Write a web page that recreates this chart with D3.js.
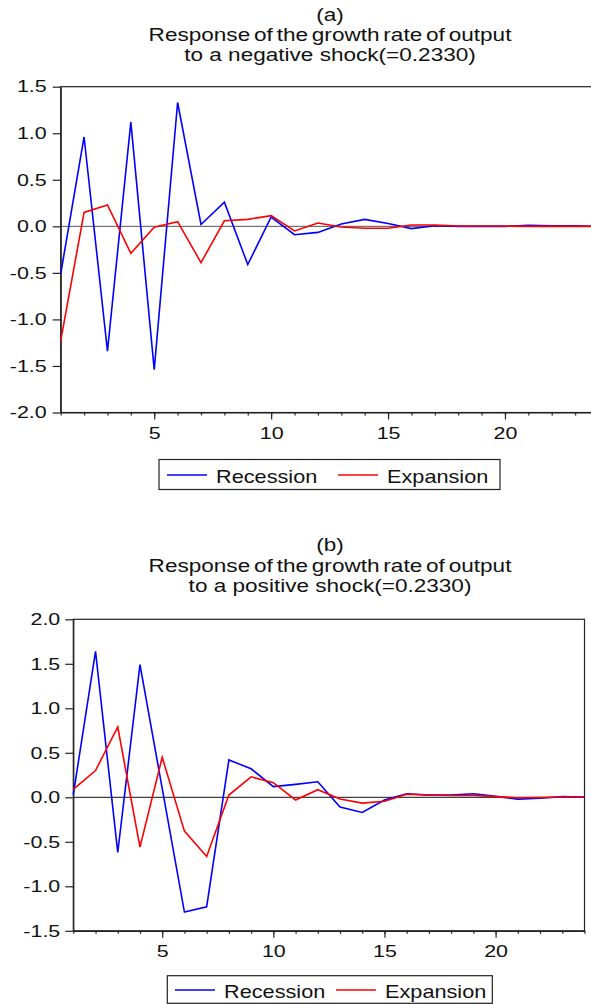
<!DOCTYPE html>
<html lang="en">
<head>
    <meta charset="UTF-8">
    <title>Impulse responses</title>
    <script src="https://d3js.org/d3.v7.min.js"></script>
    <style>
        body { margin: 0; background: #fff; }
        text { font-family: "Liberation Sans", Arial, sans-serif; fill: #111; }
    </style>
</head>
<body>
    <div id="chart"></div>

    <script>
        // Horizons
        const periods = [1, 2, 3, 4, 5, 6, 7, 8, 9, 10, 11, 12, 13, 14, 15, 16, 17, 18, 19, 20, 21, 22, 23, 24];
        const xLabelTicks = [5, 10, 15, 20];

        // (a) negative shock
        const recessionA = [-0.51, 0.96, -1.34, 1.12, -1.54, 1.33, 0.02, 0.26, -0.41, 0.10, -0.09, -0.065,
                            0.025, 0.075, 0.03, -0.025, 0.007, 0.0, 0.0, 0.0, 0.01, 0.005, 0.005, 0.0];
        const expansionA = [-1.23, 0.15, 0.23, -0.29, -0.01, 0.05, -0.39, 0.06, 0.075, 0.115, -0.05, 0.035,
                            -0.007, -0.02, -0.02, 0.015, 0.015, 0.004, 0.004, 0.003, 0.0, 0.0, 0.0, 0.0];
        const yTicksA = [-2.0, -1.5, -1.0, -0.5, 0.0, 0.5, 1.0, 1.5];

        // (b) positive shock
        const recessionB = [0.03, 1.64, -0.62, 1.49, 0.10, -1.29, -1.23, 0.42, 0.32, 0.12, 0.145, 0.175,
                            -0.11, -0.17, -0.03, 0.04, 0.025, 0.025, 0.04, 0.01, -0.02, -0.01, 0.008, 0.004];
        const expansionB = [0.09, 0.30, 0.79, -0.56, 0.45, -0.38, -0.665, 0.025, 0.23, 0.165, -0.03, 0.085,
                            -0.02, -0.065, -0.045, 0.035, 0.025, 0.02, 0.02, 0.008, -0.005, -0.003, 0.003, 0.003];
        const yTicksB = [-1.5, -1.0, -0.5, 0.0, 0.5, 1.0, 1.5, 2.0];

        const seriesNames = ["Recession", "Expansion"];
        const seriesColors = ["#0000ff", "#ff0000"];

        const svg = d3.select("#chart").append("svg")
            .attr("width", 591)
            .attr("height", 1004);

        // the original picture is stretched sideways, so text gets a x-scale
        function stretch(sel, sx) {
            sel.each(function () {
                const t = d3.select(this);
                const x = +t.attr("x") || 0;
                t.attr("x", 0).attr("transform", `translate(${x},0) scale(${sx},1)`);
            });
        }

        function label(g, x, y, str, size, sx, anchor) {
            return g.append("text")
                .attr("transform", `translate(${x},${y}) scale(${sx},1)`)
                .attr("text-anchor", anchor || "middle")
                .attr("font-size", size)
                .text(str);
        }

        function drawPanel(p) {
            const g = svg.append("g");

            const x = d3.scaleLinear().domain([1, 24]).range([p.left, p.right]);
            const y = d3.scaleLinear().domain(d3.extent(p.yTicks)).range([p.bottom, p.top]);

            // titles
            p.titles.forEach((t, i) => {
                label(g, p.titleX, p.titleY[i], t, 18.5, 1.22)
                    .attr("word-spacing", i == 1 ? -2 : 0);
            });

            // frame
            g.append("rect")
                .attr("x", p.left).attr("y", p.top)
                .attr("width", p.right - p.left).attr("height", p.bottom - p.top)
                .attr("fill", "none").attr("stroke", "#222").attr("stroke-width", 1.2);

            // zero line
            g.append("line")
                .attr("x1", p.left).attr("x2", p.right)
                .attr("y1", y(0)).attr("y2", y(0))
                .attr("stroke", p.zeroColor).attr("stroke-width", 1);

            // y axis
            const ya = g.append("g")
                .attr("transform", `translate(${p.left},0)`)
                .call(d3.axisLeft(y).tickValues(p.yTicks).tickSize(8).tickPadding(p.yPad)
                    .tickSizeOuter(0).tickFormat(d => d.toFixed(1)));
            ya.selectAll("text").attr("font-size", 16.5).attr("font-family", null).attr("fill", "#111");
            stretch(ya.selectAll("text"), 1.3);

            // x axis: minor ticks at every period, labelled ones longer
            const xMinor = g.append("g")
                .attr("transform", `translate(0,${p.bottom})`)
                .call(d3.axisBottom(x).tickValues(periods).tickSize(3).tickSizeOuter(0).tickFormat(""));
            xMinor.select(".domain").remove();
            const xa = g.append("g")
                .attr("transform", `translate(0,${p.bottom})`)
                .call(d3.axisBottom(x).tickValues(xLabelTicks).tickSize(7).tickPadding(p.xPad)
                    .tickSizeOuter(0).tickFormat(d3.format("d")));
            xa.selectAll("text").attr("font-size", 16.5).attr("font-family", null).attr("fill", "#111");
            stretch(xa.selectAll("text"), 1.3);
            g.selectAll(".domain, .tick line").attr("stroke", "#222").attr("stroke-width", 1.2);

            // lines
            const line = d3.line().x((d, i) => x(periods[i])).y(d => y(d));
            p.series.forEach((s, i) => {
                g.append("path")
                    .datum(s)
                    .attr("fill", "none")
                    .attr("stroke", seriesColors[i])
                    .attr("stroke-width", 1.6)
                    .attr("stroke-linejoin", "miter")
                    .attr("d", line);
            });

            // legend
            const lg = p.legend;
            g.append("rect")
                .attr("x", lg.x).attr("y", lg.y).attr("width", lg.w).attr("height", lg.h)
                .attr("fill", "#fff").attr("stroke", "#222").attr("stroke-width", 1.2);
            seriesNames.forEach((name, i) => {
                const sx = lg.items[i];
                g.append("line")
                    .attr("x1", sx).attr("x2", sx + 40)
                    .attr("y1", lg.lineY).attr("y2", lg.lineY)
                    .attr("stroke", seriesColors[i]).attr("stroke-width", 1.3);
                label(g, sx + 49, lg.textY, name, 17.5, 1.24, "start");
            });
        }

        drawPanel({
            titles: ["(a)", "Response of the growth rate of output", "to a negative shock(=0.2330)"],
            titleX: 330, titleY: [20.5, 41, 61],
            left: 60.7, right: 598.5, top: 86.7, bottom: 412.5,
            yTicks: yTicksA, yPad: 6, xPad: 8,
            zeroColor: "#555",
            series: [recessionA, expansionA],
            legend: { x: 159, y: 459.5, w: 341, h: 30, lineY: 475, textY: 482.5, items: [167, 338] }
        });

        drawPanel({
            titles: ["(b)", "Response of the growth rate of output", "to a positive shock(=0.2330)"],
            titleX: 330, titleY: [551, 572, 592],
            left: 73.3, right: 584.5, top: 619.3, bottom: 930.8,
            yTicks: yTicksB, yPad: 5, xPad: 7.5,
            zeroColor: "#111",
            series: [recessionB, expansionB],
            legend: { x: 167.3, y: 975.7, w: 325, h: 27.6, lineY: 990, textY: 997.5, items: [175, 336] }
        });
    </script>
</body>
</html>
